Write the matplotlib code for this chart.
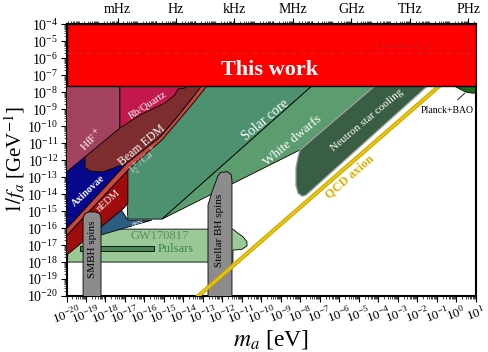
import numpy as np
import matplotlib
matplotlib.use("Agg")
import matplotlib.pyplot as plt
from matplotlib import ticker
import matplotlib.patheffects as pe

plt.rcParams['font.family'] = ['Liberation Serif', 'DejaVu Serif']
plt.rcParams['mathtext.fontset'] = 'stix'

# all shapes in log10 units: (log10 m_a [eV], log10 1/f_a [GeV^-1])
this_work_m = [-20, 1, 1, -20]
this_work_g = [-7.62, -7.62, -4, -4]
lucente_g = -5.71

hff_m = [-20, -17.26, -17.26, -20]
hff_g = [-7.62, -7.62, -10.11, -12.70]

rbq_m = [-17.26, -13.92, -13.92, -14.28, -14.44, -14.95, -16.23, -17.26]
rbq_g = [-7.62, -7.62, -7.75, -7.81, -8.16, -8.64, -9.34, -10.11]

beam_m = [-17.26, -13.0, -13.10, -13.51, -14.33, -15.21, -16.90, -18.13, -18.79, -19.05, -19.05]
beam_g = [-7.62, -7.62, -7.68, -8.28, -9.46, -10.64, -12.17, -12.70, -12.64, -12.45, -11.40]

ica_m = [-13.10, -12.79, -13.41, -14.23, -15.10, -16.69, -20, -20, -16.90, -15.21, -14.33, -13.51]
ica_g = [-7.62, -7.62, -8.52, -9.64, -10.81, -12.40, -16.45, -16.05, -12.17, -10.64, -9.46, -8.28]

nedm_m = [-16.85, -16.85, -17.05, -20, -20]
nedm_g = [-12.60, -14.52, -14.82, -17.60, -16.45]

axinova_m = [-20, -17.5, -16.90, -20]
axinova_g = [-11.0, -11.0, -12.17, -16.05]

solar_m = [-17.0, -7.40, -15.10, -16.85, -17.0]
solar_g = [-7.62, -7.62, -15.47, -15.47, -12.0]

wd_m = [-7.40, -4.18, -8.03, -15.10]
wd_g = [-7.62, -7.62, -11.40, -15.47]

ns_m = [-4.18, -1.46, -7.70, -7.90, -8.12, -8.23, -8.23, -8.13, -8.03]
ns_g = [-7.62, -7.62, -14.05, -14.13, -13.95, -13.50, -12.45, -11.85, -11.40]

n88_m = [-19.1, -17.2, -16.85, -15.62, -18.44, -19.1]
n88_g = [-15.2, -14.9, -15.53, -15.53, -16.47, -16.6]

gw_m = [-20, -11.46, -11.21, -10.95, -10.74, -10.74, -11.0, -11.46, -11.46, -20]
gw_g = [-16.06, -16.06, -16.30, -16.50, -16.80, -17.05, -17.25, -17.30, -18.0, -18.0]

pulsar_m = [-19.31, -15.51, -15.51, -19.31]
pulsar_g = [-17.06, -17.06, -17.35, -17.35]

smbh_m = [-19.15, -19.15, -19.05, -18.85, -18.50, -18.30, -18.23, -18.23]
smbh_g = [-20.5, -15.40, -15.15, -15.05, -15.05, -15.15, -15.40, -20.5]

sbh_m = [-12.74, -12.74, -12.54, -12.23, -12.10, -11.75, -11.55, -11.51, -11.51]
sbh_g = [-20.5, -14.64, -13.88, -12.93, -12.72, -12.68, -12.85, -13.20, -20.5]

planck_m = [-0.13, 0.18, 0.49, 0.80, 1.0, 1.0]
planck_g = [-7.62, -7.81, -7.99, -8.05, -8.05, -7.62]

qcd_m = np.array([-14.0, 1.0])
qcd_offset = -6.76

freq_ticks = [1e-3, 1e0, 1e3, 1e6, 1e9, 1e12, 1e15]
freq_labels = ['mHz', 'Hz', 'kHz', 'MHz', 'GHz', 'THz', 'PHz']
h_eVs = 4.135667e-15

fig = plt.figure(figsize=(4.89, 3.52), dpi=100)
ax = fig.add_axes([0.136, 0.159, 0.837, 0.772])
ax.set_xscale('log')
ax.set_yscale('log')
ax.set_xlim(1e-20, 1e1)
ax.set_ylim(1e-20, 1e-4)


def region(m, g, color, z, ec='k', lw=0.6):
    ax.fill(10.0 ** np.array(m), 10.0 ** np.array(g), facecolor=color,
            edgecolor=ec, lw=lw, zorder=z)


region(gw_m, gw_g, '#9ac897', 1)
region(pulsar_m, pulsar_g, '#4b8858', 1.5)
region(solar_m, solar_g, '#4d9170', 2)
region(wd_m, wd_g, '#5b9d6e', 2)
region(ns_m, ns_g, '#395e43', 2.1, ec='#aaaaaa', lw=0.9)
region(n88_m, n88_g, '#2c5d80', 2.5)
region(axinova_m, axinova_g, '#07078c', 3)
region(ica_m, ica_g, '#c8463c', 3.1)
region(nedm_m, nedm_g, '#a00b0b', 3.2)
region(beam_m, beam_g, '#7d2d2d', 3.3)
region(hff_m, hff_g, '#a3425f', 3.4)
region(rbq_m, rbq_g, '#c2184c', 3.5)
region(smbh_m, smbh_g, '#8c8c8c', 4)
region(sbh_m, sbh_g, '#8c8c8c', 4)
region(planck_m, planck_g, '#1b6b1b', 4.5)
region(this_work_m, this_work_g, '#ff0000', 5, lw=1.0)

ax.plot(10.0 ** qcd_m, 10.0 ** (qcd_m + qcd_offset), color='#e8c400', lw=2.0,
        zorder=4.2, solid_capstyle='butt',
        path_effects=[pe.Stroke(linewidth=3.0, foreground='#b89a10'), pe.Normal()])

ax.axhline(10.0 ** lucente_g, color='#c43030', lw=0.7, ls=(0, (5, 5)), zorder=5.5)
ax.text(10 ** -2.64, 10 ** -5.28, 'Lucente et al.', color='#d21a1a', fontsize=8,
        ha='center', va='center', zorder=6)
ax.text(10 ** -9.56, 10 ** -6.69, 'This work', color='white', fontsize=16,
        fontweight='bold', ha='center', va='center', zorder=6)


def label(lm, lg, s, rot, size=7, color='white', **kw):
    ax.text(10 ** lm, 10 ** lg, s, rotation=rot, fontsize=size, color=color,
            ha='center', va='center', zorder=7, rotation_mode='anchor', **kw)


label(-18.74, -10.81, r'HfF$^+$', 45, 8)
label(-15.82, -8.75, 'Rb/Quartz', 33, 7.5)
label(-16.13, -11.11, 'Beam EDM', 40, 8.5)
label(-15.97, -12.05, r'I$_2^+$/Ca$^+$', 41, 8, color='#c8c8c8')
label(-18.90, -13.82, 'Axinovae', 43, 7.5, fontweight='bold')
label(-17.85, -14.40, 'nEDM', 42, 7.5)
label(-16.33, -15.76, '88N', 20, 5)
label(-9.77, -9.64, 'Solar core', 40, 10)
label(-8.38, -10.82, 'White dwarfs', 40, 9.5)
label(-4.59, -9.64, 'Neutron star cooling', 40, 8)
label(-5.46, -12.99, 'QCD axion', 41, 9, color='#d9b000', fontweight='bold')
label(-15.21, -16.47, 'GW170817', 0, 9, color='#5e8f60')
ax.text(10 ** -15.31, 10 ** -17.24, 'Pulsars', fontsize=9, color='#3f7f4f',
        ha='left', va='center', zorder=7)
label(-18.69, -17.23, 'SMBH spins', 90, 8, color='black')
label(-12.13, -16.11, 'Stellar BH spins', 90, 8, color='black')

ax.annotate('Planck+BAO', xy=(10 ** 0.44, 10 ** -8.05), xytext=(10 ** -0.49, 10 ** -9.05),
            fontsize=7, ha='center', va='center', zorder=7,
            arrowprops=dict(arrowstyle='-', color='k', lw=0.6, shrinkA=3, shrinkB=0))

ax.xaxis.set_major_locator(ticker.LogLocator(base=10, numticks=40))
ax.yaxis.set_major_locator(ticker.LogLocator(base=10, numticks=40))
ax.xaxis.set_minor_locator(ticker.LogLocator(base=10, subs=np.arange(2, 10), numticks=40))
ax.yaxis.set_minor_locator(ticker.LogLocator(base=10, subs=np.arange(2, 10), numticks=40))
ax.xaxis.set_minor_formatter(ticker.NullFormatter())
ax.yaxis.set_minor_formatter(ticker.NullFormatter())
ax.tick_params(which='major', length=4, width=0.8, labelsize=10)
ax.tick_params(which='minor', length=2, width=0.5)
ax.tick_params(axis='x', labelsize=9.5, labelrotation=20, pad=1)
ax.tick_params(axis='y', pad=2)
for sp in ax.spines.values():
    sp.set_linewidth(1.5)

sec = ax.secondary_xaxis('top', functions=(lambda m: m / h_eVs, lambda f: f * h_eVs))
sec.xaxis.set_major_locator(ticker.FixedLocator(freq_ticks))
sec.xaxis.set_major_formatter(ticker.FixedFormatter(freq_labels))
sec.xaxis.set_minor_locator(ticker.LogLocator(base=10, subs=np.arange(1, 10), numticks=60))
sec.xaxis.set_minor_formatter(ticker.NullFormatter())
sec.tick_params(which='major', length=4, width=0.8, labelsize=10, pad=2)
sec.tick_params(which='minor', length=2, width=0.5)
sec.spines['top'].set_linewidth(1.5)

ax.set_xlabel(r'$m_a$ [eV]', fontsize=17, labelpad=1)
ax.set_ylabel(r'$1/f_a$ [GeV$^{-1}$]', fontsize=15)
ax.yaxis.set_label_coords(-0.095, 0.5)

fig.savefig('out.png', dpi=100)
